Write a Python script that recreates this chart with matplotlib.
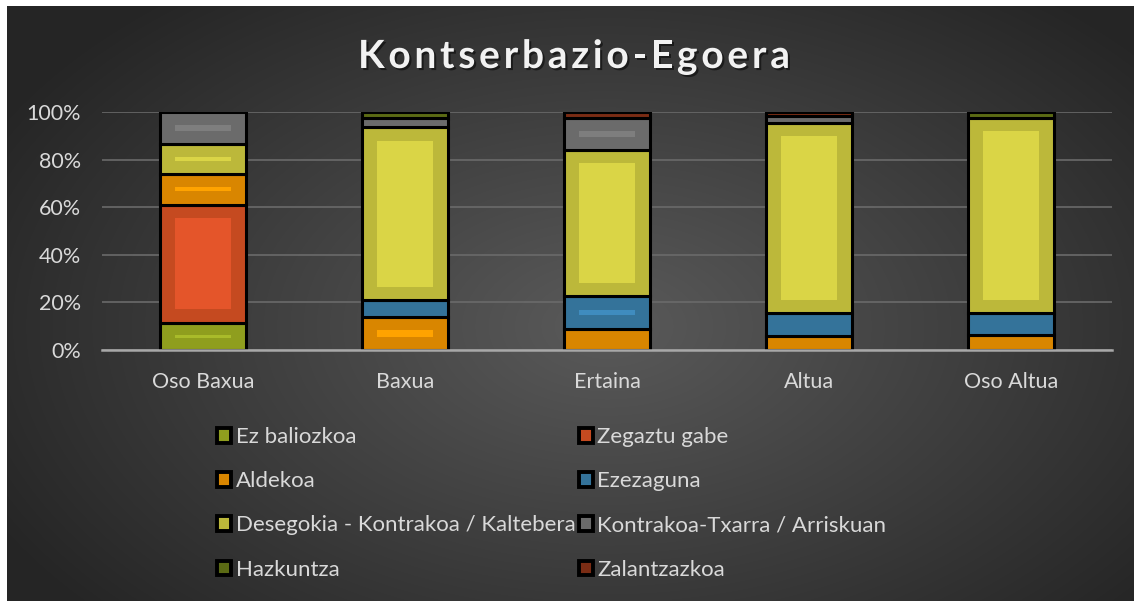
import numpy as np
import matplotlib
matplotlib.use('Agg')
import matplotlib.pyplot as plt
from matplotlib.patches import Patch
from matplotlib import patheffects

plt.rcParams['font.family'] = ['Lato', 'DejaVu Sans']

W, H = 1134, 601

categories = ['Oso Baxua', 'Baxua', 'Ertaina', 'Altua', 'Oso Altua']
series_names = ['Ez baliozkoa', 'Zegaztu gabe', 'Aldekoa', 'Ezezaguna',
                'Desegokia - Kontrakoa / Kaltebera', 'Kontrakoa-Txarra / Arriskuan',
                'Hazkuntza', 'Zalantzazkoa']
# percentages, stacked bottom -> top
ez_baliozkoa = [11.5, 0, 0, 0, 0]
zegaztu_gabe = [49.5, 0, 0, 0, 0]
aldekoa = [13, 14, 9, 6, 6.5]
ezezaguna = [0, 7, 13.5, 9.5, 9]
desegokia = [12.5, 72.5, 61.5, 80, 82]
kontrakoa = [13.5, 4, 13.5, 3, 0]
hazkuntza = [0, 2.5, 0, 0, 2.5]
zalantzazkoa = [0, 0, 2.5, 1.5, 0]
yticks = [0, 20, 40, 60, 80, 100]

series = [ez_baliozkoa, zegaztu_gabe, aldekoa, ezezaguna,
          desegokia, kontrakoa, hazkuntza, zalantzazkoa]
fills = ['#8f9e1e', '#c54a20', '#d98600', '#34739a',
         '#bcb83a', '#6b6b6b', '#5b6a14', '#7a2c14']
glows = ['#a9bb2a', '#e4552a', '#ffa300', '#3f8cbf',
         '#dad546', '#7e7e7e', '#6b7c1a', '#8e3418']

fig = plt.figure(figsize=(W / 100, H / 100), dpi=100, facecolor='white')

# radial gradient background
bg = fig.add_axes([7 / W, 0, 1 - 7 / W, 1 - 6 / H], zorder=-10)
yy, xx = np.mgrid[0:595, 0:1127]
t = np.sqrt(((xx - 600) / 700.0) ** 2 + ((yy - 320) / 430.0) ** 2)
t = np.clip(t, 0, 1)
c0 = np.array([0x5a, 0x5a, 0x5a]) / 255
c1 = np.array([0x25, 0x25, 0x25]) / 255
img = c0[None, None, :] * (1 - t[..., None]) + c1[None, None, :] * t[..., None]
bg.imshow(img, aspect='auto', interpolation='bilinear')
bg.axis('off')

ax = fig.add_axes([102 / W, (H - 350) / H, (1112 - 102) / W, 238 / H])
ax.patch.set_alpha(0)

x = np.arange(len(categories))
bw = 0.43
gw = 0.28
bottom = np.zeros(len(categories))
for vals, fc, gc in zip(series, fills, glows):
    vals = np.array(vals, dtype=float)
    for i in range(len(categories)):
        v = vals[i]
        if v <= 0:
            continue
        ax.bar(x[i], v, bw, bottom=bottom[i], color=fc, edgecolor='black',
               linewidth=2.2, zorder=3)
        if v > 10.5:
            inset = 5.6
            gh = max(v - 2 * inset, 1.1)
            ax.bar(x[i], gh, gw, bottom=bottom[i] + (v - gh) / 2, color=gc,
                   linewidth=0, zorder=4)
    bottom += vals

ax.set_xlim(-0.5, len(categories) - 0.5)
ax.set_ylim(0, 100)
ax.set_yticks(yticks)
ax.set_yticklabels([f'{v}%' for v in yticks])
ax.set_xticks(x)
ax.set_xticklabels(categories)
ax.grid(axis='y', color='#6a6a6a', linewidth=1.2, zorder=0)
ax.set_axisbelow(True)
for s in ['top', 'right', 'left']:
    ax.spines[s].set_visible(False)
ax.spines['bottom'].set_color('#a8a8a8')
ax.spines['bottom'].set_linewidth(1.8)
ax.spines['bottom'].set_zorder(5)
ax.tick_params(axis='both', length=0, colors='#d9d9d9', labelsize=15.5)
ax.tick_params(axis='y', pad=15)
ax.tick_params(axis='x', pad=16)

# letter-spaced title
title = 'Kontserbazio-Egoera'
tkw = dict(fontsize=28, fontweight='bold', color='#f2f2f2')
r = fig.canvas.get_renderer()
widths = []
for ch in title:
    tt = fig.text(0, 0, ch, **tkw)
    widths.append(tt.get_window_extent(r).width)
    tt.remove()
spacing = (432 - sum(widths)) / (len(title) - 1)
xpos = 574 - 432 / 2
shadow = [patheffects.withSimplePatchShadow(offset=(1.5, -1.5), shadow_rgbFace='black', alpha=0.5)]
for ch, w in zip(title, widths):
    fig.text(xpos / W, 1 - 68 / H, ch, ha='left', va='baseline',
             path_effects=shadow, **tkw)
    xpos += w + spacing

# legend (row-wise order like the original)
handles = [Patch(facecolor=fc, edgecolor='black', linewidth=2.8, joinstyle='round')
           for fc in fills]
order = [0, 2, 4, 6, 1, 3, 5, 7]
leg = fig.legend([handles[i] for i in order], [series_names[i] for i in order],
                 ncol=2, loc='upper left', bbox_to_anchor=(217 / W, 1 - 427 / H),
                 frameon=False, fontsize=16, labelcolor='#d9d9d9',
                 handlelength=0.64, handleheight=0.64, handletextpad=0.2,
                 columnspacing=0.15, labelspacing=1.09, borderpad=0, borderaxespad=0)

fig.savefig('out.png', dpi=100, facecolor=fig.get_facecolor())
